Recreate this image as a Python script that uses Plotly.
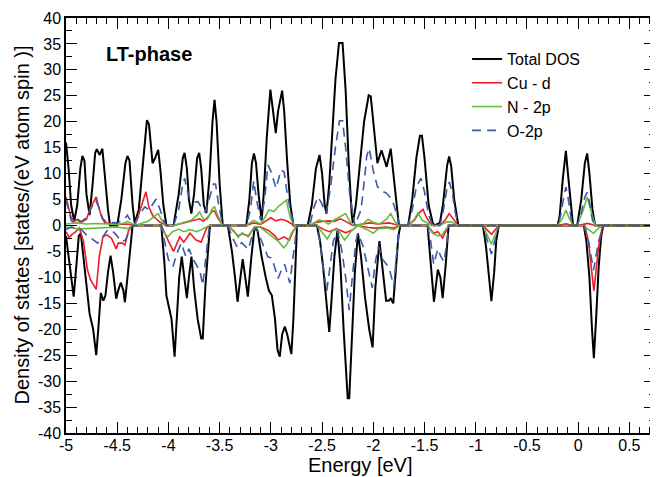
import plotly.graph_objects as go

# ---------------- data: (energy [eV], DOS) vertices ----------------
total_up = [(-5.00, 16.0), (-4.975, 11), (-4.95, 4), (-4.92, 0.8), (-4.89, 4), (-4.86, 11), (-4.84, 13.4),
            (-4.82, 12.5), (-4.80, 6), (-4.77, 2.0), (-4.74, 8), (-4.715, 14), (-4.70, 14.7), (-4.67, 13.6),
            (-4.645, 14.8), (-4.62, 9), (-4.59, 3), (-4.57, 0), (-4.50, 0), (-4.46, 5), (-4.42, 12),
            (-4.40, 13.4), (-4.38, 12.5), (-4.35, 4), (-4.33, 0.5), (-4.29, 3), (-4.25, 12), (-4.21, 20.3),
            (-4.19, 19.5), (-4.155, 12.0), (-4.13, 13), (-4.10, 14.6), (-4.08, 11), (-4.05, 4), (-4.02, 0),
            (-3.95, 0), (-3.90, 6), (-3.86, 13), (-3.842, 14.0), (-3.82, 11), (-3.80, 5), (-3.776, 2.3),
            (-3.75, 6), (-3.72, 13), (-3.70, 14.0), (-3.68, 11), (-3.655, 4), (-3.63, 2.4), (-3.60, 9),
            (-3.57, 20), (-3.55, 24.2), (-3.53, 20), (-3.50, 8), (-3.47, 0), (-3.24, 0), (-3.21, 5),
            (-3.185, 12), (-3.165, 13.9), (-3.145, 12), (-3.12, 6), (-3.09, 1), (-3.07, 6), (-3.04, 17),
            (-3.005, 26.2), (-2.952, 17.8), (-2.93, 22), (-2.89, 26.0), (-2.87, 22), (-2.84, 12),
            (-2.81, 4), (-2.78, 0), (-2.64, 0), (-2.60, 4), (-2.56, 11), (-2.525, 13.6), (-2.50, 10),
            (-2.475, 4), (-2.457, 2.3), (-2.43, 8), (-2.40, 18), (-2.37, 28), (-2.335, 35.2), (-2.30, 35.2),
            (-2.27, 26), (-2.24, 12), (-2.21, 2), (-2.20, 0.5), (-2.17, 4), (-2.13, 12), (-2.09, 20),
            (-2.045, 25.1), (-2.025, 24.9), (-2.00, 20), (-1.96, 12), (-1.92, 14.5), (-1.87, 11.3),
            (-1.83, 14.8), (-1.80, 9), (-1.77, 2.5), (-1.75, 0), (-1.66, 0), (-1.62, 5), (-1.58, 13),
            (-1.545, 17.3), (-1.525, 17.3), (-1.50, 13), (-1.46, 4), (-1.42, 0.5), (-1.40, 0), (-1.35, 0.5),
            (-1.32, 4), (-1.28, 11.5), (-1.26, 13.3), (-1.24, 11.5), (-1.21, 5), (-1.17, 0), (-0.20, 0),
            (-0.18, 2), (-0.15, 9), (-0.12, 14.4), (-0.10, 10), (-0.07, 3), (-0.05, 0), (-0.01, 0),
            (0.03, 5), (0.065, 12), (0.088, 13.9), (0.11, 10), (0.14, 3), (0.165, 0), (0.75, 0)]

total_dn = [(-5.00, -2), (-4.96, -8), (-4.925, -13.7), (-4.90, -8), (-4.875, -2), (-4.855, -1.5), (-4.83, -6),
            (-4.80, -12), (-4.77, -17), (-4.735, -20), (-4.705, -25), (-4.685, -20), (-4.66, -13),
            (-4.635, -14.5), (-4.615, -13.5), (-4.59, -9), (-4.565, -5.8), (-4.54, -9), (-4.51, -14.1),
            (-4.49, -12.5), (-4.465, -11), (-4.44, -12.5), (-4.425, -14.8), (-4.40, -10), (-4.37, -3),
            (-4.35, 0), (-4.07, 0), (-4.04, -7), (-4.02, -13.5), (-3.99, -16.5), (-3.97, -18), (-3.94, -25.3),
            (-3.915, -17), (-3.895, -10), (-3.87, -6), (-3.845, -10), (-3.82, -14), (-3.80, -10),
            (-3.775, -6), (-3.75, -12), (-3.715, -18), (-3.68, -21.8), (-3.665, -21.8), (-3.64, -12),
            (-3.61, -3), (-3.595, 0), (-3.42, 0), (-3.38, -5), (-3.35, -10), (-3.325, -14.7), (-3.30, -10.5),
            (-3.275, -6.5), (-3.25, -10), (-3.225, -13.7), (-3.19, -6), (-3.16, -0.5), (-3.13, -1),
            (-3.09, -6), (-3.05, -10), (-3.02, -12.5), (-2.99, -13.5), (-2.96, -18), (-2.935, -24),
            (-2.913, -25.3), (-2.89, -21), (-2.864, -19.5), (-2.84, -21), (-2.80, -24.8), (-2.78, -18),
            (-2.76, -6), (-2.745, 0), (-2.55, 0), (-2.52, -3), (-2.49, -8), (-2.46, -15), (-2.43, -20.5),
            (-2.41, -15), (-2.38, -6), (-2.35, -1), (-2.32, -8), (-2.29, -20), (-2.265, -30), (-2.25, -33.3),
            (-2.235, -33.3), (-2.21, -22), (-2.18, -9), (-2.15, -1.5), (-2.12, -6), (-2.08, -14),
            (-2.04, -20), (-2.007, -23.5), (-1.98, -12), (-1.94, -3), (-1.91, -8), (-1.875, -14.5),
            (-1.85, -14.5), (-1.83, -14.1), (-1.805, -15), (-1.78, -9), (-1.755, -2), (-1.735, 0),
            (-1.47, 0), (-1.445, -6), (-1.408, -14.7), (-1.37, -8.5), (-1.345, -10), (-1.323, -14),
            (-1.295, -8), (-1.265, 0), (-0.93, 0), (-0.90, -4), (-0.87, -10), (-0.847, -14.6), (-0.82, -9),
            (-0.80, -3), (-0.775, 0), (0.055, 0), (0.08, -3), (0.11, -10), (0.135, -20), (0.153, -25.6),
            (0.175, -18), (0.20, -8), (0.225, -2), (0.245, 0), (0.75, 0)]

cu_up = [(-5.00, 5.5), (-4.975, 3.5), (-4.95, 1.5), (-4.92, 0.8), (-4.89, 1.2), (-4.86, 0.5), (-4.83, 0.8),
         (-4.80, 1.2), (-4.76, 3.5), (-4.705, 5.5), (-4.68, 3.5), (-4.65, 1.5), (-4.62, 0.5), (-4.55, 0.3),
         (-4.50, 0.2), (-4.40, 0.3), (-4.33, 0), (-4.30, 1.5), (-4.25, 4.5), (-4.22, 6.5), (-4.19, 3.5),
         (-4.15, 1.8), (-4.12, 1.3), (-4.08, 0.6), (-4.02, 0), (-3.95, 0), (-3.85, 0.5), (-3.78, 0.8),
         (-3.72, 1.2), (-3.695, 1.3), (-3.66, 0.8), (-3.62, 1.5), (-3.57, 2.8), (-3.55, 2.8), (-3.52, 1.5),
         (-3.47, 0), (-3.24, 0), (-3.17, 0.5), (-3.10, 0.2), (-3.05, 0.8), (-3.00, 1.5), (-2.95, 0.9),
         (-2.90, 1.2), (-2.85, 0.9), (-2.80, 0.4), (-2.77, 0), (-2.62, 0), (-2.56, 0.6), (-2.50, 0.8),
         (-2.43, 0.9), (-2.38, 0.8), (-2.32, 1.3), (-2.27, 0.8), (-2.20, 0), (-2.10, 0.3), (-2.04, 0.5),
         (-1.95, 0.3), (-1.85, 0.5), (-1.78, 0.2), (-1.75, 0), (-1.66, 0), (-1.60, 1), (-1.55, 2.5),
         (-1.515, 3.1), (-1.48, 1.5), (-1.43, 0), (-1.35, 0), (-1.30, 1), (-1.26, 2.3), (-1.22, 1.2),
         (-1.17, 0), (-0.20, 0), (-0.12, 0.3), (-0.05, 0), (0.0, 0), (0.09, 0.4), (0.17, 0), (0.75, 0)]

cu_dn = [(-5.00, -1.2), (-4.97, -2.3), (-4.94, -1.7), (-4.91, -1.3), (-4.87, -0.5), (-4.83, -3), (-4.79, -8.6),
         (-4.76, -10.5), (-4.705, -12.3), (-4.675, -6), (-4.64, -2.2), (-4.60, -1.8), (-4.555, -2.5),
         (-4.51, -4.5), (-4.49, -3.4), (-4.45, -3.4), (-4.425, -3.8), (-4.39, -1.0), (-4.35, 0), (-4.07, 0),
         (-4.00, -3), (-3.95, -5.0), (-3.89, -2.2), (-3.85, -3.2), (-3.79, -1.5), (-3.73, -2.8),
         (-3.68, -3.2), (-3.63, -0.6), (-3.60, 0), (-3.42, 0), (-3.36, -1.2), (-3.32, -2.0), (-3.28, -1.6),
         (-3.22, -2.0), (-3.16, -0.3), (-3.10, -0.3), (-3.02, -1.0), (-2.96, -2.0), (-2.93, -2.8),
         (-2.87, -2.2), (-2.82, -2.8), (-2.78, -1.0), (-2.745, 0), (-2.55, 0), (-2.48, -0.8), (-2.43, -1.2),
         (-2.36, -0.6), (-2.27, -1.4), (-2.20, -0.8), (-2.15, 0), (-2.05, -0.4), (-1.98, -0.5),
         (-1.88, -0.3), (-1.80, -0.5), (-1.74, 0), (-1.47, 0), (-1.41, -1.5), (-1.37, -1.2), (-1.323, -2.4),
         (-1.29, -1.0), (-1.265, 0), (-0.93, 0), (-0.847, -1.7), (-0.775, 0), (0.065, 0), (0.10, -3),
         (0.153, -12.6), (0.20, -4), (0.237, 0), (0.75, 0)]

n_up = [(-5.00, 0.3), (-4.90, 0.5), (-4.80, 0.3), (-4.70, 0.4), (-4.60, 0.3), (-4.50, 0.2), (-4.43, 0.5),
        (-4.40, 0.8), (-4.35, 0.3), (-4.30, 0.2), (-4.20, 0.8), (-4.15, 1.5), (-4.10, 2.3), (-4.07, 1.2),
        (-4.03, 0), (-3.95, 0), (-3.85, 0.6), (-3.78, 1.0), (-3.72, 2.0), (-3.695, 2.6), (-3.66, 1.2),
        (-3.62, 1.2), (-3.57, 3.3), (-3.55, 3.6), (-3.52, 2), (-3.47, 0), (-3.24, 0), (-3.17, 1.0),
        (-3.10, 0.3), (-3.06, 1.5), (-3.02, 3.0), (-2.97, 2.7), (-2.93, 3.6), (-2.875, 4.5), (-2.85, 4.9),
        (-2.81, 1.5), (-2.77, 0), (-2.62, 0), (-2.56, 0.8), (-2.53, 1.1), (-2.48, 0.8), (-2.44, 0.3),
        (-2.37, 1.2), (-2.30, 2.0), (-2.27, 2.3), (-2.23, 0.8), (-2.19, 0), (-2.10, 0.3), (-2.05, 1.2),
        (-2.00, 0.6), (-1.94, 0.3), (-1.87, 1.2), (-1.83, 2.3), (-1.79, 0.8), (-1.75, 0), (-1.66, 0),
        (-1.60, 1.2), (-1.565, 2.4), (-1.52, 1.0), (-1.43, 0), (-1.35, 0), (-1.28, 0.7), (-1.24, 0.7),
        (-1.17, 0), (-0.20, 0), (-0.15, 1.5), (-0.12, 3.0), (-0.09, 1.5), (-0.05, 0), (-0.01, 0),
        (0.05, 3), (0.088, 5.5), (0.12, 3), (0.165, 0), (0.75, 0)]

n_dn = [(-5.00, -0.3), (-4.90, -0.6), (-4.80, -0.6), (-4.70, -0.5), (-4.60, -0.4), (-4.50, -0.3), (-4.40, -0.6),
        (-4.35, 0), (-4.08, 0), (-4.04, -1.5), (-4.005, -2.2), (-3.96, -1.2), (-3.90, -0.7), (-3.85, -1.2),
        (-3.79, -0.8), (-3.72, -1.2), (-3.66, -0.6), (-3.60, 0), (-3.42, 0), (-3.36, -1.0), (-3.32, -2.3),
        (-3.28, -1.4), (-3.22, -2.2), (-3.16, -0.2), (-3.10, -0.4), (-3.03, -1.5), (-2.98, -2.2),
        (-2.93, -3.0), (-2.875, -4.3), (-2.84, -3.5), (-2.80, -1.5), (-2.745, 0), (-2.55, 0), (-2.50, -1.2),
        (-2.45, -2.6), (-2.40, -1.0), (-2.35, -0.7), (-2.28, -2.8), (-2.22, -1.2), (-2.15, 0), (-2.06, -0.8),
        (-2.00, -1.5), (-1.95, -0.6), (-1.86, -0.5), (-1.80, -0.8), (-1.74, 0), (-1.47, 0), (-1.42, -1.5),
        (-1.37, -2.0), (-1.33, -1.8), (-1.29, -0.8), (-1.265, 0), (-0.93, 0), (-0.847, -3.6), (-0.775, 0),
        (0.055, 0), (0.10, -0.8), (0.15, -1.5), (0.20, -0.5), (0.245, 0), (0.75, 0)]

o_up = [(-5.00, 4.9), (-4.975, 3), (-4.95, 1.0), (-4.92, 0.5), (-4.88, 1.1), (-4.85, 0.8), (-4.80, 1.5),
        (-4.75, 3.5), (-4.71, 4.9), (-4.68, 3.5), (-4.64, 1.3), (-4.60, 0.6), (-4.50, 0.5), (-4.43, 1.2),
        (-4.40, 2.0), (-4.36, 0.5), (-4.33, 0.4), (-4.27, 2.5), (-4.23, 3.6), (-4.19, 3.0), (-4.15, 4.3),
        (-4.12, 5.1), (-4.08, 3), (-4.05, 1), (-4.02, 0), (-3.95, 0), (-3.90, 3), (-3.86, 8), (-3.842, 9.1),
        (-3.82, 7), (-3.79, 5), (-3.76, 4.5), (-3.71, 4.6), (-3.68, 3.5), (-3.64, 2.5), (-3.60, 5.5),
        (-3.56, 8.0), (-3.54, 8.0), (-3.51, 4), (-3.47, 0), (-3.24, 0), (-3.20, 3), (-3.167, 8.6),
        (-3.14, 5), (-3.10, 1), (-3.06, 5), (-3.03, 11.7), (-3.00, 10.5), (-2.95, 7.2), (-2.90, 10.7),
        (-2.87, 10.3), (-2.84, 6), (-2.80, 2), (-2.77, 0), (-2.62, 0), (-2.58, 3.5), (-2.54, 5.5),
        (-2.51, 4.5), (-2.46, 2.3), (-2.42, 7), (-2.37, 15), (-2.33, 20.2), (-2.30, 20.2), (-2.27, 15),
        (-2.23, 6), (-2.18, 0), (-2.12, 3), (-2.08, 10), (-2.065, 13.3), (-2.04, 14.9), (-2.00, 10.5),
        (-1.96, 7.5), (-1.93, 7.0), (-1.90, 6.5), (-1.87, 6.2), (-1.83, 5.3), (-1.80, 4.0), (-1.76, 1),
        (-1.74, 0), (-1.66, 0), (-1.62, 3), (-1.58, 7.5), (-1.535, 9.1), (-1.50, 6.5), (-1.46, 2),
        (-1.42, 0), (-1.35, 0), (-1.32, 2.5), (-1.28, 7.2), (-1.258, 8.4), (-1.23, 6.5), (-1.20, 2.5),
        (-1.17, 0), (-0.20, 0), (-0.17, 2), (-0.14, 5.5), (-0.12, 7.4), (-0.10, 5.5), (-0.07, 1.5),
        (-0.05, 0), (-0.01, 0), (0.03, 2.5), (0.065, 5.5), (0.088, 6.4), (0.11, 4.5), (0.14, 1),
        (0.165, 0), (0.75, 0)]

o_dn = [(-5.00, -0.8), (-4.95, -0.3), (-4.90, -0.5), (-4.85, -0.8), (-4.80, -1.8), (-4.75, -2.6), (-4.69, -3.4),
        (-4.64, -2.2), (-4.60, -1.0), (-4.56, -0.8), (-4.51, -1.8), (-4.46, -3.1), (-4.42, -2.8),
        (-4.38, -1.0), (-4.35, 0), (-4.07, 0), (-4.03, -3.5), (-4.00, -6.6), (-3.955, -7.9), (-3.92, -5.5),
        (-3.875, -3.4), (-3.83, -6.0), (-3.80, -4.5), (-3.76, -6.5), (-3.715, -8.0), (-3.695, -8.6),
        (-3.665, -11.5), (-3.635, -6), (-3.60, 0), (-3.42, 0), (-3.37, -2.5), (-3.325, -4.3),
        (-3.285, -3.3), (-3.22, -4.6), (-3.17, -1.0), (-3.14, -0.5), (-3.08, -3.5), (-3.03, -6.0),
        (-2.99, -6.3), (-2.93, -10.2), (-2.89, -8.3), (-2.865, -7.5), (-2.815, -11.1), (-2.79, -7),
        (-2.76, -2), (-2.745, 0), (-2.56, 0), (-2.52, -3), (-2.49, -7.9), (-2.455, -12.7), (-2.43, -9),
        (-2.39, -3), (-2.35, -1.0), (-2.31, -4.5), (-2.27, -10), (-2.235, -16.3), (-2.21, -11),
        (-2.17, -3), (-2.15, -1.5), (-2.10, -4), (-2.05, -8.5), (-2.01, -12.0), (-1.98, -7), (-1.95, -4),
        (-1.91, -6.5), (-1.87, -7.5), (-1.835, -9), (-1.80, -11.8), (-1.775, -6), (-1.74, 0), (-1.47, 0),
        (-1.44, -3), (-1.41, -7.5), (-1.37, -4.5), (-1.34, -6), (-1.31, -7), (-1.28, -3), (-1.265, 0),
        (-0.93, 0), (-0.847, -5.5), (-0.775, 0), (0.055, 0), (0.10, -3), (0.15, -8.6), (0.20, -3),
        (0.245, 0), (0.75, 0)]

series_names = ["Total DOS", "Cu - d", "N - 2p", "O-2p"]
x_ticks = [-5, -4.5, -4, -3.5, -3, -2.5, -2, -1.5, -1, -0.5, 0, 0.5]
y_ticks = list(range(-40, 45, 5))

# ---------------- figure ----------------
FONT = "Liberation Sans, Arial, Helvetica, sans-serif"
styles = [
    dict(color="#000000", width=2.0),
    dict(color="#ee1c24", width=1.6),
    dict(color="#66bb44", width=1.6),
    dict(color="#3a5aa8", width=1.6, dash="9px,6px"),
]
data_pairs = [(total_up, total_dn), (cu_up, cu_dn), (n_up, n_dn), (o_up, o_dn)]

fig = go.Figure()
for name, (up, dn), st in zip(series_names, data_pairs, styles):
    xs = [p[0] for p in up] + [None] + [p[0] for p in dn]
    ys = [p[1] for p in up] + [None] + [p[1] for p in dn]
    fig.add_trace(go.Scatter(x=xs, y=ys, mode="lines", name=name, line=st,
                             connectgaps=False, hoverinfo="skip"))

axis_common = dict(
    showline=True, linecolor="black", linewidth=1.5, mirror="allticks",
    ticks="inside", ticklen=11, tickwidth=1.3, tickcolor="black",
    showgrid=False, zeroline=False, automargin=False,
    tickfont=dict(family=FONT, size=16, color="black"),
)

# the page body adds an 8px offset; margins compensate so the plot area lands where the reference has it
fig.update_layout(
    width=658, height=477,
    margin=dict(l=58, r=11, t=10, b=52),
    paper_bgcolor="white", plot_bgcolor="white",
    font=dict(family=FONT, color="black"),
    xaxis=dict(range=[-5, 0.75], tickvals=x_ticks, ticktext=[f"{v:g}" for v in x_ticks],
               ticklabelstandoff=-3,
               minor=dict(dtick=0.1, tick0=-5, ticks="inside", ticklen=6, tickwidth=1.2, tickcolor="black"),
               **axis_common),
    yaxis=dict(range=[-40, 40], tickvals=y_ticks, ticktext=[str(v) for v in y_ticks],
               minor=dict(dtick=2.5, tick0=0, ticks="inside", ticklen=6, tickwidth=1.2, tickcolor="black"),
               **axis_common),
    legend=dict(x=0.681, y=0.942, xanchor="left", yanchor="top", bgcolor="rgba(0,0,0,0)",
                borderwidth=0, font=dict(family=FONT, size=16), itemwidth=30, tracegroupgap=0),
    annotations=[
        dict(text="<b>LT-phase</b>", xref="paper", yref="paper", x=0.0645, y=0.913,
             xanchor="left", yanchor="middle", showarrow=False,
             font=dict(family=FONT, size=20, color="black")),
        dict(text="Energy [eV]", xref="paper", yref="paper", x=0.5, y=-0.078,
             xanchor="center", yanchor="middle", showarrow=False,
             font=dict(family=FONT, size=20, color="black")),
        dict(text="Density of states [states/(eV atom spin )]", xref="paper", yref="paper",
             x=-0.0764, y=0.5, xanchor="center", yanchor="middle", textangle=-90, showarrow=False,
             font=dict(family=FONT, size=20, color="black")),
    ],
)

fig.write_html("out.html")
